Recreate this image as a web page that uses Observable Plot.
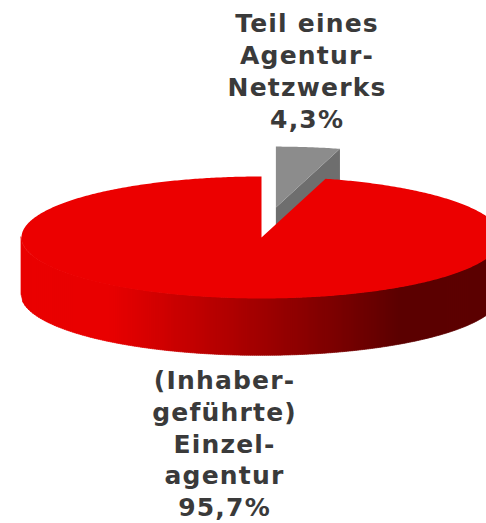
<!DOCTYPE html>
<html><head><meta charset="utf-8">
<script src="https://cdn.jsdelivr.net/npm/d3@7"></script>
<script src="https://cdn.jsdelivr.net/npm/@observablehq/plot@0.6"></script>
<style>
html,body{margin:0;padding:0;background:#fff}
svg text{letter-spacing:1.2px}
</style></head><body>
<script>
const categories = ["Teil eines\nAgentur-\nNetzwerks", "(Inhaber-\ngeführte)\nEinzel-\nagentur"];
const shares = [4.3, 95.7];
const shareLabels = ["4,3%", "95,7%"];

const depth = 0.94, offset = {x: 0.06, y: 0.49};
const toAngle = v => v / 100 * 2 * Math.PI;
const wedge = (a0, a1, dx = 0, dy = 0) => {
  const n = Math.max(2, Math.ceil((a1 - a0) / 0.01));
  const pts = [{x: dx, y: dy}];
  for (let i = 0; i <= n; i++) {
    const a = a0 + (a1 - a0) * i / n;
    pts.push({x: dx + Math.sin(a), y: dy + Math.cos(a)});
  }
  return pts;
};
const aGray = toAngle(shares[0]);
const grayTop = wedge(0, aGray, offset.x, offset.y);
const redTop = wedge(aGray, aGray + toAngle(shares[1]));
const tip = {x: offset.x + Math.sin(aGray), y: offset.y + Math.cos(aGray)};
const grayWall = [
  {x: offset.x, y: offset.y}, tip,
  {x: tip.x, y: tip.y - depth}, {x: offset.x, y: offset.y - depth}
];
const shade = d3.scaleLinear()
  .domain([-1, -0.64, -0.3, 0.12, 0.58, 1])
  .range(["#ea0000", "#ea0000", "#c40000", "#920000", "#5c0000", "#5c0000"]);
const bands = [];
const step = 1 / 120;
for (let i = 0; i < 240; i++) {
  const u0 = -1 + i * step, u1 = Math.min(1, u0 + step), mid = (u0 + u1) / 2;
  for (const u of [u0, u1]) {
    const top = -Math.sqrt(Math.max(0, 1 - u * u));
    bands.push({band: i, x: u, y1: top, y2: top - depth, c: d3.color(shade(mid)).formatHex()});
  }
}
const label = (text, x, y) => Plot.text([text], {
  x: () => x, y: () => y, text: d => d,
  fontFamily: "DejaVu Sans", fontWeight: "bold", fontSize: 25,
  lineHeight: 1.27, lineAnchor: "middle", fill: "#3a3a3a"
});

const chart = Plot.plot({
  width: 486, height: 523,
  margin: 0, marginTop: 0, marginRight: 0, marginBottom: 0, marginLeft: 0,
  x: {domain: [-1, 1], range: [21, 501], axis: null},
  y: {domain: [-1, 1], range: [298, 176], axis: null},
  marks: [
    Plot.line(grayWall, {x: "x", y: "y", fill: "#6e6e6e", stroke: "none"}),
    Plot.line(grayTop, {x: "x", y: "y", fill: "#8c8c8c", stroke: "none"}),
    Plot.areaY(bands, {x: "x", y1: "y1", y2: "y2", z: "band", fill: "c", stroke: "c", strokeWidth: 0.6}),
    Plot.line(redTop, {x: "x", y: "y", fill: "#ec0000", stroke: "none"}),
    label(categories[0] + "\n" + shareLabels[0], 0.19, 2.75),
    label(categories[1] + "\n" + shareLabels[1], -0.154, -3.36)
  ]
});
document.body.appendChild(chart);
</script>
</body></html>
